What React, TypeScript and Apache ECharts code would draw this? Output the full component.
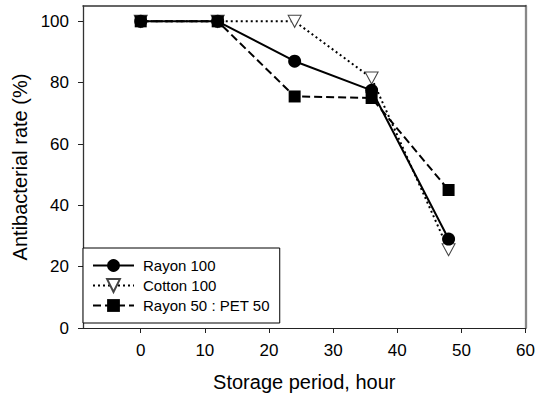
import React, { useEffect, useRef } from "react";
import * as echarts from "echarts";

const hours = [0, 12, 24, 36, 48];
const rayon100 = [100, 100, 87, 77.5, 29];
const cotton100 = [100, 100, 100, 81.5, 25.5];
const rayonPet = [100, 100, 75.5, 75, 45];
const xTicks = [0, 10, 20, 30, 40, 50, 60];
const yTicks = [0, 20, 40, 60, 80, 100];
const seriesNames = ["Rayon 100", "Cotton 100", "Rayon 50 : PET 50"];

const FONT = "'Liberation Sans', Arial, sans-serif";
const TRI = "path://M0,0 L10,0 L5,9 Z";

const pairs = (ys: number[]) => hours.map((h, i) => [h, ys[i]]);

export default function App() {
  const ref = useRef<HTMLDivElement>(null);
  useEffect(() => {
    if (!ref.current) return;
    const chart = echarts.init(ref.current, null, { renderer: "svg" });
    chart.setOption({
      animation: false,
      backgroundColor: "#fff",
      textStyle: { fontFamily: FONT },
      grid: { left: 83, right: 9, top: 6, bottom: 69, containLabel: false },
      legend: {
        orient: "vertical",
        left: 83,
        top: 248,
        data: seriesNames,
        padding: [10, 10, 10, 9],
        itemWidth: 41,
        itemHeight: 16,
        itemGap: 5,
        borderColor: "#000",
        borderWidth: 1,
        backgroundColor: "#fff",
        textStyle: { fontSize: 15, color: "#000", fontFamily: FONT, padding: [0, 0, 0, 4] },
      },
      xAxis: [
        {
          type: "value",
          min: -9,
          max: 60,
          name: "Storage period, hour",
          nameLocation: "middle",
          nameGap: 44,
          nameTextStyle: { fontSize: 20, color: "#000", fontFamily: FONT },
          axisLine: { show: true, onZero: false, lineStyle: { color: "#222", width: 1 } },
          axisTick: { show: true, inside: false, length: 5, customValues: xTicks, lineStyle: { color: "#222" } },
          axisLabel: { show: true, customValues: xTicks, fontSize: 17, color: "#000", margin: 14, fontFamily: FONT },
          splitLine: { show: false },
        },
        {
          type: "value",
          min: -9,
          max: 60,
          position: "top",
          axisLine: { show: true, onZero: false, lineStyle: { color: "#333", width: 1.5 } },
          axisTick: { show: false },
          axisLabel: { show: false },
          splitLine: { show: false },
        },
      ],
      yAxis: [
        {
          type: "value",
          min: 0,
          max: 105,
          name: "Antibacterial rate (%)",
          nameLocation: "middle",
          nameGap: 51,
          nameTextStyle: { fontSize: 20, color: "#000", fontFamily: FONT },
          axisLine: { show: true, onZero: false, lineStyle: { color: "#333", width: 1.3 } },
          axisTick: { show: true, inside: false, length: 5, customValues: yTicks, lineStyle: { color: "#222" } },
          axisLabel: { show: true, customValues: yTicks, fontSize: 17, color: "#000", margin: 14, fontFamily: FONT },
          splitLine: { show: false },
        },
        {
          type: "value",
          min: 0,
          max: 105,
          position: "right",
          axisLine: { show: true, onZero: false, lineStyle: { color: "#888", width: 2.3 } },
          axisTick: { show: false },
          axisLabel: { show: false },
          splitLine: { show: false },
        },
      ],
      series: [
        {
          name: "Cotton 100",
          type: "line",
          data: pairs(cotton100),
          symbol: TRI,
          symbolSize: [13, 12],
          lineStyle: { color: "#000", width: 2, type: [2, 3] },
          itemStyle: { color: "#fff", borderColor: "#444", borderWidth: 1 },
          z: 2,
        },
        {
          name: "Rayon 100",
          type: "line",
          data: pairs(rayon100),
          symbol: "circle",
          symbolSize: 13,
          lineStyle: { color: "#000", width: 2, type: "solid" },
          itemStyle: { color: "#000", borderWidth: 0 },
          z: 3,
        },
        {
          name: "Rayon 50 : PET 50",
          type: "line",
          data: pairs(rayonPet),
          symbol: "rect",
          symbolSize: 12,
          lineStyle: { color: "#000", width: 2, type: [8, 4] },
          itemStyle: { color: "#000", borderWidth: 0 },
          z: 4,
        },
      ],
    });
    return () => chart.dispose();
  }, []);
  return (
    <div
      ref={ref}
      style={{ position: "fixed", left: 0, top: 0, width: 538, height: 397, background: "#fff" }}
    />
  );
}
